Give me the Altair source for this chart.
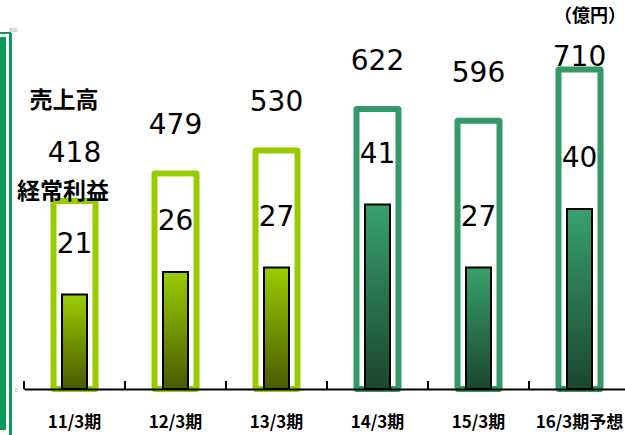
import altair as alt
import pandas as pd

categories = ["11/3期", "12/3期", "13/3期", "14/3期", "15/3期", "16/3期予想"]
sales = [418, 479, 530, 622, 596, 710]
profit = [21, 26, 27, 41, 27, 40]
groups = ["past", "past", "past", "recent", "recent", "recent"]

LIME = "#99CC00"
GREEN = "#339966"
BORDER = "#0A9A55"
FONT = "Noto Sans CJK JP"
NUMFONT = "DejaVu Sans"

df = pd.DataFrame({"cat": categories, "sales": sales, "profit": profit, "grp": groups})

xscale = alt.Scale(domain=categories, range=[24, 630], paddingInner=0, paddingOuter=0)
xaxis = alt.Axis(
    title=None,
    ticks=False,
    domainColor="black",
    domainWidth=2,
    labelAngle=0,
    labelFont=FONT,
    labelFontSize=17,
    labelFontWeight="bold",
    labelColor="black",
    labelPadding=25,
    labelOverlap=False,
    labelLimit=200,
    zindex=1,
)
x_enc = alt.X("cat:N", sort=categories, scale=xscale, axis=xaxis)

sales_scale = alt.Scale(domain=[0, 800])
profit_scale = alt.Scale(domain=[0, 80])

base = alt.Chart(df)

# outer frame: coloured bar with a white bar inside (6 px frame)
outer = base.mark_bar(size=48, cornerRadius=3, yOffset=-3, y2Offset=3).encode(
    x=x_enc,
    y=alt.Y(
        "sales:Q",
        scale=sales_scale,
        axis=alt.Axis(
            title=None,
            values=[0, 800],
            domain=False,
            ticks=False,
            grid=False,
            labelFontSize=5,
            labelColor="#999999",
            offset=-20,
            labelPadding=3,
        ),
    ),
    y2=alt.datum(0),
    color=alt.Color("grp:N", scale=alt.Scale(domain=["past", "recent"], range=[LIME, GREEN]), legend=None),
)

outer_inner = base.mark_bar(size=36, fill="white", yOffset=3, y2Offset=-3).encode(
    x=x_enc,
    y=alt.Y("sales:Q", scale=sales_scale, axis=None),
    y2=alt.datum(0),
)

sales_text = base.transform_calculate(lab="min(datum.sales + 105, 735)").mark_text(
    font=NUMFONT, fontSize=28, color="black", baseline="middle"
).encode(
    x=x_enc,
    y=alt.Y("lab:Q", scale=sales_scale, axis=None),
    text=alt.Text("sales:Q"),
)


def grad(top, bottom):
    return alt.Gradient(
        gradient="linear",
        stops=[alt.GradientStop(color=top, offset=0), alt.GradientStop(color=bottom, offset=1)],
        x1=0, x2=0, y1=0, y2=1,
    )


inner_past = base.transform_filter(alt.datum.grp == "past").mark_bar(
    size=25, fill=grad("#9ACD00", "#4A5A00"), stroke="black"
).encode(x=x_enc, y=alt.Y("profit:Q", scale=profit_scale, axis=None), strokeWidth=alt.value(2))

inner_recent = base.transform_filter(alt.datum.grp == "recent").mark_bar(
    size=25, fill=grad("#37A16B", "#1B4630"), stroke="black"
).encode(x=x_enc, y=alt.Y("profit:Q", scale=profit_scale, axis=None), strokeWidth=alt.value(2))

profit_text = base.mark_text(
    font=NUMFONT, fontSize=28, color="black", baseline="middle", dy=-50
).encode(
    x=x_enc,
    y=alt.Y("profit:Q", scale=profit_scale, axis=None),
    text=alt.Text("profit:Q"),
)

ticks = base.mark_rule(color="black", strokeWidth=2).encode(
    x=alt.X("cat:N", sort=categories, scale=xscale, axis=xaxis, bandPosition=0),
    y=alt.value(352),
    y2=alt.value(360),
)

one = pd.DataFrame({"a": [0]})


def label(txt, xv, yv, size, align="center"):
    return alt.Chart(pd.DataFrame({"t": [txt]})).mark_text(
        font=FONT, fontSize=size, fontWeight="bold", color="black", align=align, baseline="middle"
    ).encode(text="t:N", x=alt.value(xv), y=alt.value(yv))


lbl_sales = label("売上高", 64, 72, 23)
lbl_profit = label("経常利益", 63, 163, 23)
lbl_unit = label("（億円）", 626, -12, 18, align="right")

b1 = alt.Chart(one).mark_rule(color=BORDER, strokeWidth=6).encode(
    x=alt.value(3), y=alt.value(8), y2=alt.value(401)
)
b1h = alt.Chart(one).mark_rule(color=BORDER, strokeWidth=2).encode(
    x=alt.value(0), x2=alt.value(6), y=alt.value(9)
)
b2 = alt.Chart(one).mark_rule(color=BORDER, strokeWidth=3).encode(
    x=alt.value(10.5), y=alt.value(4), y2=alt.value(406)
)
b2h = alt.Chart(one).mark_rule(color=BORDER, strokeWidth=2).encode(
    x=alt.value(0), x2=alt.value(11), y=alt.value(4)
)

chart = alt.layer(
    outer, outer_inner, inner_past, inner_recent, ticks, sales_text, profit_text,
    lbl_sales, lbl_profit, lbl_unit, b1, b1h, b2, b2h,
).resolve_scale(y="independent").properties(
    width=625,
    height=360,
    autosize=alt.AutoSizeParams(type="none"),
    padding={"left": 0, "top": 29, "right": 0, "bottom": 46},
    background="white",
).configure_view(stroke=None)

chart.save("out.html", embed_options={"renderer": "svg", "actions": False})
